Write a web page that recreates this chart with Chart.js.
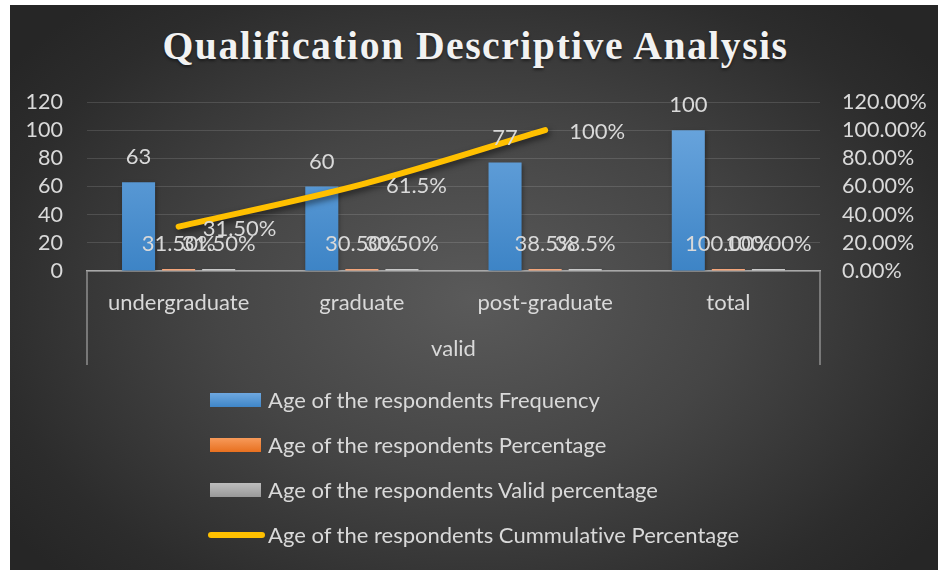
<!DOCTYPE html>
<html>
<head>
<meta charset="utf-8">
<script src="https://cdn.jsdelivr.net/npm/chart.js@4.4.1/dist/chart.umd.min.js"></script>
<style>
  html, body { margin: 0; padding: 0; background: #ffffff; }
  #wrap { position: relative; width: 940px; height: 570px; overflow: hidden; background: #ffffff; }
  #panel { position: absolute; left: 10px; top: 5px; width: 928px; height: 565px;
           background: radial-gradient(ellipse 62% 70% at 50% 52%, #5a5a5a 0%, #454545 45%, #2c2c2c 85%, #262626 100%); }
  #c { position: absolute; left: 0; top: 0; }
  #title { position: absolute; left: 0; top: 26px; width: 950px; text-align: center; white-space: nowrap;
           font-family: "Liberation Serif", "Times New Roman", serif; font-weight: bold; font-size: 40px;
           line-height: 40px; color: #f2f2f2; letter-spacing: 1.5px; text-shadow: 0 2px 3px rgba(0,0,0,0.45); }
  #title span { display: inline-block; transform-origin: 50% 50%; }
  #legend { position: absolute; left: 208px; top: 377px; font-family: Lato, "Open Sans", sans-serif;
            font-size: 22px; color: #d9d9d9; font-variant-ligatures: none; }
  .item { position: relative; height: 45px; display: flex; align-items: center; }
  .sw { width: 51px; height: 14px; margin-left: 2px; margin-right: 7px; }
  .ln { width: 57px; height: 6px; border-radius: 3px; margin-right: 3px; }
</style>
</head>
<body>
<div id="wrap">
  <div id="panel"></div>
  <div id="title"><span id="titleText">Qualification Descriptive Analysis</span></div>
  <canvas id="c" width="940" height="570"></canvas>
  <div id="legend"></div>
</div>
<script>
// ---------- data ----------
const categories = ['undergraduate', 'graduate', 'post-graduate', 'total'];
const groupLabel = 'valid';
const seriesNames = [
  'Age of the respondents Frequency',
  'Age of the respondents Percentage',
  'Age of the respondents Valid percentage',
  'Age of the respondents Cummulative Percentage'
];
const frequency = [63, 60, 77, 100];
const percentage = [0.315, 0.305, 0.385, 1.0];
const validPercentage = [0.315, 0.305, 0.385, 1.0];
const cumulative = [0.315, 0.615, 1.0, null];

const frequencyLabels = ['63', '60', '77', '100'];
const percentageLabels = ['31.50%', '30.50%', '38.5%', '100.00%'];
const validLabels = ['31.50%', '30.50%', '38.5%', '100.00%'];
const cumulativeLabels = ['31.50%', '61.5%', '100%', null];

const leftAxis = { min: 0, max: 120, step: 20 };
const rightAxis = { min: 0, max: 1.2, step: 0.2 };

// ---------- styles ----------
const FONT = 'Lato, "Open Sans", sans-serif';
const TEXT = '#d9d9d9';
const labelSets = [frequencyLabels, percentageLabels, validLabels, cumulativeLabels];

function barFill(top, bottom) {
  return (c) => {
    const area = c.chart.chartArea;
    if (!area) return bottom;
    const g = c.chart.ctx.createLinearGradient(0, area.top, 0, area.bottom);
    g.addColorStop(0, top); g.addColorStop(1, bottom);
    return g;
  };
}

const legendStyles = [
  { type: 'box', color: 'linear-gradient(#6ea8e0, #3f86c8)' },
  { type: 'box', color: 'linear-gradient(#f79a5a, #e8701f)' },
  { type: 'box', color: 'linear-gradient(#bdbdbd, #999999)' },
  { type: 'line', color: '#ffc000' }
];

const labelPlugin = {
  id: 'valueLabels',
  afterDatasetsDraw(chart) {
    const ctx = chart.ctx;
    ctx.save();
    ctx.font = '22px ' + FONT;
    ctx.fillStyle = TEXT;
    ctx.textBaseline = 'middle';
    chart.data.datasets.forEach((ds, i) => {
      const meta = chart.getDatasetMeta(i);
      const labels = labelSets[i];
      meta.data.forEach((el, j) => {
        const t = labels[j];
        if (t == null || el.skip) return;
        if (ds.type === 'line') {
          ctx.textAlign = 'left';
          ctx.fillText(t, el.x + 24, el.y + 2);
        } else {
          ctx.textAlign = 'center';
          ctx.fillText(t, el.x, el.y - 25);
        }
      });
    });
    ctx.restore();
  }
};

const decorPlugin = {
  id: 'decor',
  beforeDatasetDraw(chart, args) {
    const ctx = chart.ctx;
    ctx.save();
    if (chart.data.datasets[args.index].type === 'line') {
      ctx.shadowColor = 'rgba(0,0,0,0.55)';
      ctx.shadowBlur = 6;
      ctx.shadowOffsetX = 2;
      ctx.shadowOffsetY = 3;
    } else {
      ctx.shadowColor = 'rgba(0,0,0,0.35)';
      ctx.shadowBlur = 4;
      ctx.shadowOffsetX = 1;
      ctx.shadowOffsetY = 2;
    }
  },
  afterDatasetDraw(chart) { chart.ctx.restore(); },
  afterDraw(chart) {
    const x = chart.scales.x;
    const ctx = chart.ctx;
    ctx.save();
    ctx.strokeStyle = '#8f8f8f';
    ctx.lineWidth = 1.5;
    ctx.beginPath();
    ctx.moveTo(x.left, x.top); ctx.lineTo(x.left, x.bottom);
    ctx.moveTo(x.right, x.top); ctx.lineTo(x.right, x.bottom);
    ctx.stroke();
    ctx.restore();
  }
};

const chart = new Chart(document.getElementById('c'), {
  data: {
    labels: categories,
    datasets: [
      { type: 'bar', label: seriesNames[0], data: frequency, yAxisID: 'y', order: 2,
        backgroundColor: barFill('#6fa9e0', '#3d84c6'), categoryPercentage: 0.656, barPercentage: 0.825 },
      { type: 'bar', label: seriesNames[1], data: percentage, yAxisID: 'y', order: 2, minBarLength: 2,
        backgroundColor: '#f4a57a', categoryPercentage: 0.656, barPercentage: 0.825 },
      { type: 'bar', label: seriesNames[2], data: validPercentage, yAxisID: 'y', order: 2, minBarLength: 2,
        backgroundColor: '#c8c8c8', categoryPercentage: 0.656, barPercentage: 0.825 },
      { type: 'line', label: seriesNames[3], data: cumulative, yAxisID: 'y1', order: 1,
        borderColor: '#ffc000', borderWidth: 6, borderCapStyle: 'round', borderJoinStyle: 'round',
        tension: 0.35, pointRadius: 0, fill: false, spanGaps: false }
    ]
  },
  options: {
    responsive: false,
    animation: false,
    events: [],
    layout: { padding: { top: 102, bottom: 205, left: 0, right: 0 } },
    plugins: { legend: { display: false }, title: { display: false }, tooltip: { enabled: false } },
    scales: {
      x: {
        offset: true,
        grid: { display: false, drawTicks: false },
        border: { display: true, color: '#a8a8a8', width: 1.5 },
        ticks: { color: TEXT, font: { family: FONT, size: 22 }, padding: 19, maxRotation: 0, autoSkip: false },
        title: { display: true, text: groupLabel, color: TEXT, font: { family: FONT, size: 22 }, padding: { top: 4, bottom: 3 } },
        afterFit(s) { s.height = 94; }
      },
      y: {
        position: 'left', min: leftAxis.min, max: leftAxis.max,
        grid: { color: 'rgba(255,255,255,0.13)', lineWidth: 1, drawTicks: false },
        border: { display: false },
        ticks: { stepSize: leftAxis.step, autoSkip: false, color: TEXT, font: { family: FONT, size: 21.5 }, padding: 24 },
        afterFit(s) { s.width = 87; }
      },
      y1: {
        position: 'right', min: rightAxis.min, max: rightAxis.max,
        grid: { display: false, drawTicks: false },
        border: { display: false },
        ticks: { stepSize: rightAxis.step, autoSkip: false, color: TEXT, font: { family: FONT, size: 21.5 }, padding: 22,
                 callback: (v) => (v * 100).toFixed(2) + '%' },
        afterFit(s) { s.width = 120; }
      }
    }
  },
  plugins: [labelPlugin, decorPlugin]
});

// legend built from the chart's datasets
const legendEl = document.getElementById('legend');
chart.data.datasets.forEach((ds, i) => {
  const st = legendStyles[i];
  const row = document.createElement('div');
  row.className = 'item';
  const sw = document.createElement('div');
  sw.className = st.type === 'line' ? 'ln' : 'sw';
  sw.style.background = st.color;
  const tx = document.createElement('span');
  tx.textContent = ds.label;
  row.appendChild(sw); row.appendChild(tx);
  legendEl.appendChild(row);
});

// fit title width to reference
const tt = document.getElementById('titleText');
const w = tt.getBoundingClientRect().width;
if (w > 0) tt.style.transform = 'scaleX(' + (626 / w).toFixed(4) + ')';
</script>
</body>
</html>
